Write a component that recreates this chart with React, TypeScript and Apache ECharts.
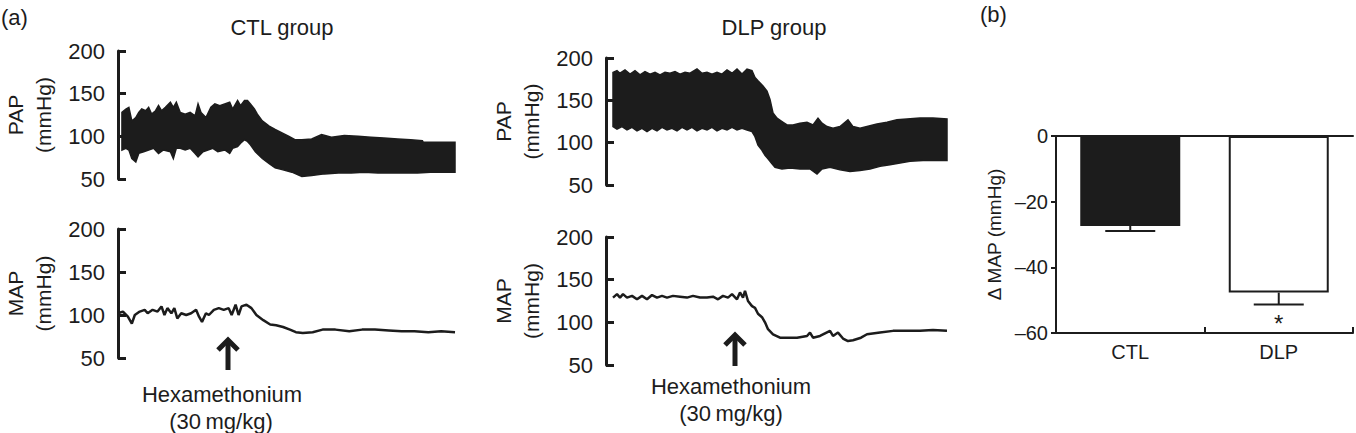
import React, { useEffect, useRef } from 'react';
import * as echarts from 'echarts';

const FONT = '"Liberation Sans", Arial, Helvetica, sans-serif';
const INK = '#1c1c1c';

// ---- (a) pressure traces: time positions (arbitrary units) and pressures (mmHg) ----
const pressureTicks = [50, 100, 150, 200];

const ctlPapUpperT = [4,8,11,14,18,21,24,28,31,34,38,41,44,48,53,56,59,63,68,73,78,81,84,89,94,98,103,108,113,116,121,124,128,131,134,138,141,146,153,159,166,173,179,186,196,206,216,229,243,256,269,283,296,308,309,341];
const ctlPapUpper = [128,132,134,118,122,128,132,130,134,126,130,136,130,134,140,134,140,128,126,128,124,138,128,122,134,138,136,138,140,132,142,136,142,142,138,132,126,118,112,108,104,100,96,96,97,102,99,101,100,99,98,97,96,95,93,93];
const ctlPapLowerT = [4,8,11,14,18,21,26,31,36,41,46,53,56,59,63,68,73,78,81,86,91,96,101,108,113,116,121,124,128,131,134,139,146,153,159,166,176,186,196,209,223,236,249,263,276,289,303,316,329,341];
const ctlPapLower = [84,86,84,74,70,80,82,84,86,80,84,82,74,86,86,84,86,80,76,82,84,86,82,84,80,86,88,92,96,94,90,82,74,68,63,61,58,53,54,56,57,57,58,57,57,57,57,58,58,58];

const ctlMapT = [0,5,10,14,17,22,27,30,35,40,44,47,50,54,57,60,64,69,74,79,82,85,89,92,97,102,107,112,115,119,122,125,130,135,140,147,154,160,167,174,180,187,197,207,220,234,247,260,274,287,300,314,327,341];
const ctlMap = [102,104,98,90,100,104,106,102,106,104,110,100,108,102,108,96,102,100,102,106,98,92,102,100,106,108,106,108,100,112,100,110,112,108,100,94,89,88,86,83,80,79,80,83,83,81,83,83,82,81,81,80,81,80];

const dlpPapUpperT = [7,11,14,19,24,29,34,39,44,49,54,59,64,69,74,79,84,91,96,101,106,111,116,121,126,131,136,141,146,149,152,157,161,164,167,171,176,181,187,194,201,207,212,216,221,227,234,242,247,254,261,271,281,291,301,314,327,341];
const dlpPapUpper = [183,185,182,186,181,185,180,184,181,183,180,183,182,184,181,183,182,187,182,183,181,183,181,186,182,187,181,187,185,177,173,167,161,151,135,129,125,121,121,123,124,121,129,123,119,117,119,127,119,117,119,122,124,127,128,129,129,128];
const dlpPapLowerT = [7,11,16,21,26,31,36,41,46,51,56,61,66,71,76,81,86,91,96,101,106,111,116,121,126,131,136,141,146,149,152,156,159,162,166,169,176,184,194,204,211,216,224,234,244,254,264,274,284,294,304,317,331,341];
const dlpPapLower = [119,116,119,115,118,114,117,113,117,114,118,115,117,114,118,115,118,114,117,115,118,114,117,115,118,115,117,115,113,107,97,91,85,81,75,71,69,70,69,69,63,69,71,68,66,67,69,72,74,76,78,79,79,79];

const dlpMapT = [7,11,14,17,21,26,31,36,41,46,51,56,61,67,74,81,87,94,101,107,112,117,122,126,131,134,137,139,142,146,149,152,156,159,162,167,174,181,191,201,204,207,214,224,227,232,237,242,247,255,261,274,287,301,314,327,341];
const dlpMap = [129,133,129,133,129,131,127,131,127,132,129,131,129,131,130,129,131,129,129,130,127,131,129,133,127,135,129,137,125,119,117,110,106,100,92,86,82,82,82,84,88,82,84,90,84,88,81,78,79,82,86,88,90,90,90,91,90];

// ---- (b) bar chart ----
const barCategories = ['CTL', 'DLP'];
const barMeans = [-27.4, -47.7];
const barSem = [1.5, 3.6];
const barSig = ['', '*'];
const deltaTicks = [-60, -40, -20, 0];

const TIME_MAX = 342;

function traceX(gridIndex: number) {
  return { type: 'value', gridIndex, min: 0, max: TIME_MAX, show: false };
}

function traceY(gridIndex: number, name: string) {
  return {
    type: 'value',
    gridIndex,
    min: pressureTicks[0],
    max: pressureTicks[pressureTicks.length - 1],
    interval: pressureTicks[1] - pressureTicks[0],
    name,
    nameLocation: 'middle',
    nameRotate: 90,
    nameGap: 61,
    nameTextStyle: { fontSize: 21, color: INK, fontFamily: FONT, lineHeight: 28 },
    axisLine: { show: true, lineStyle: { color: INK, width: 3 } },
    axisTick: { show: true, inside: true, length: 8, lineStyle: { color: INK, width: 3 } },
    axisLabel: { fontSize: 22, color: INK, fontFamily: FONT, margin: 13 },
    splitLine: { show: false },
  };
}

function bandSeries(idx: number, upT: number[], up: number[], loT: number[], lo: number[]) {
  return {
    type: 'custom',
    coordinateSystem: 'cartesian2d',
    xAxisIndex: idx,
    yAxisIndex: idx,
    clip: false,
    data: upT.map((t, i) => [t, up[i]]),
    renderItem: (params: any, api: any) => {
      if (params.dataIndex !== 0) return null;
      const pts: number[][] = [];
      for (let i = 0; i < upT.length; i++) pts.push(api.coord([upT[i], up[i]]));
      for (let i = loT.length - 1; i >= 0; i--) pts.push(api.coord([loT[i], lo[i]]));
      return {
        type: 'polygon',
        shape: { points: pts },
        style: { fill: INK, stroke: INK, lineWidth: 1.5, lineJoin: 'miter' },
      };
    },
  };
}

function lineSeries(idx: number, t: number[], v: number[]) {
  return {
    type: 'line',
    xAxisIndex: idx,
    yAxisIndex: idx,
    showSymbol: false,
    symbol: 'none',
    data: t.map((x, i) => [x, v[i]]),
    lineStyle: { color: INK, width: 2.5 },
  };
}

function arrow(x: number, yTop: number, yBottom: number) {
  return {
    type: 'group',
    children: [
      { type: 'line', shape: { x1: x, y1: yTop + 3, x2: x, y2: yBottom }, style: { stroke: INK, lineWidth: 5 } },
      {
        type: 'polyline',
        shape: { points: [[x - 10, yTop + 13], [x, yTop + 3], [x + 10, yTop + 13]] },
        style: { stroke: INK, lineWidth: 5, fill: null, lineJoin: 'miter' },
      },
    ],
  };
}

function label(text: string, x: number, y: number, fontSize: number, align = 'center') {
  return {
    type: 'text',
    x,
    y,
    style: { text, fontSize, fontFamily: FONT, fill: INK, align, verticalAlign: 'middle' },
  };
}

export default function App() {
  const ref = useRef<HTMLDivElement>(null);

  useEffect(() => {
    if (!ref.current) return;
    const chart = echarts.init(ref.current, null, { renderer: 'svg' });
    const option: any = {
      animation: false,
      backgroundColor: '#ffffff',
      textStyle: { fontFamily: FONT, color: INK },
      grid: [
        { left: 114, top: 51, width: TIME_MAX, height: 128 },
        { left: 114, top: 229, width: TIME_MAX, height: 129 },
        { left: 606, top: 58, width: TIME_MAX, height: 127 },
        { left: 606, top: 237, width: TIME_MAX, height: 128 },
        { left: 1056, top: 136, width: 297, height: 197 },
      ],
      xAxis: [
        traceX(0),
        traceX(1),
        traceX(2),
        traceX(3),
        {
          type: 'category',
          gridIndex: 4,
          position: 'bottom',
          data: barCategories,
          axisLine: { show: true, onZero: false, lineStyle: { color: INK, width: 2 } },
          axisTick: { show: true, inside: true, length: 6, alignWithLabel: false, lineStyle: { color: INK, width: 2 } },
          axisLabel: { fontSize: 20, color: INK, fontFamily: FONT, margin: 9 },
          splitLine: { show: false },
        },
        {
          type: 'category',
          gridIndex: 4,
          position: 'top',
          data: barCategories,
          axisLine: { show: true, onZero: false, lineStyle: { color: INK, width: 2 } },
          axisTick: { show: false },
          axisLabel: { show: false },
          splitLine: { show: false },
        },
      ],
      yAxis: [
        traceY(0, 'PAP\n(mmHg)'),
        traceY(1, 'MAP\n(mmHg)'),
        traceY(2, 'PAP\n(mmHg)'),
        traceY(3, 'MAP\n(mmHg)'),
        {
          type: 'value',
          gridIndex: 4,
          min: deltaTicks[0],
          max: deltaTicks[deltaTicks.length - 1],
          interval: deltaTicks[1] - deltaTicks[0],
          name: 'Δ MAP (mmHg)',
          nameLocation: 'middle',
          nameRotate: 90,
          nameGap: 52,
          nameTextStyle: { fontSize: 19, color: INK, fontFamily: FONT },
          axisLine: { show: true, lineStyle: { color: INK, width: 2 } },
          axisTick: { show: true, inside: false, length: 5, lineStyle: { color: INK, width: 2 } },
          axisLabel: {
            fontSize: 20,
            color: INK,
            fontFamily: FONT,
            margin: 8,
            formatter: (v: number) => String(v).replace('-', '\u2013'),
          },
          splitLine: { show: false },
        },
      ],
      series: [
        bandSeries(0, ctlPapUpperT, ctlPapUpper, ctlPapLowerT, ctlPapLower),
        lineSeries(1, ctlMapT, ctlMap),
        bandSeries(2, dlpPapUpperT, dlpPapUpper, dlpPapLowerT, dlpPapLower),
        lineSeries(3, dlpMapT, dlpMap),
        {
          type: 'bar',
          xAxisIndex: 4,
          yAxisIndex: 4,
          barWidth: 100,
          data: barMeans.map((v, i) => ({
            value: v,
            itemStyle: {
              color: i === 0 ? INK : '#ffffff',
              borderColor: INK,
              borderWidth: 2,
            },
          })),
        },
        {
          type: 'custom',
          xAxisIndex: 4,
          yAxisIndex: 4,
          clip: false,
          data: barMeans.map((v, i) => [i, v - barSem[i]]),
          renderItem: (params: any, api: any) => {
            const i = params.dataIndex;
            const top = api.coord([i, barMeans[i]]);
            const end = api.coord([i, barMeans[i] - barSem[i]]);
            return {
              type: 'group',
              children: [
                { type: 'line', shape: { x1: top[0], y1: top[1], x2: end[0], y2: end[1] }, style: { stroke: INK, lineWidth: 2 } },
                { type: 'line', shape: { x1: end[0] - 25, y1: end[1], x2: end[0] + 25, y2: end[1] }, style: { stroke: INK, lineWidth: 2 } },
                {
                  type: 'text',
                  x: end[0],
                  y: end[1] + 19,
                  style: { text: barSig[i], fontSize: 24, fontFamily: FONT, fill: INK, align: 'center', verticalAlign: 'middle' },
                },
              ],
            };
          },
        },
      ],
      graphic: [
        label('(a)', 1, 17, 22, 'left'),
        label('(b)', 980, 14, 22, 'left'),
        label('CTL group', 282, 27, 22),
        label('DLP group', 774, 27, 22),
        label('Hexamethonium', 222, 394, 22),
        label('(30\u2009mg/kg)', 221, 421, 22),
        label('Hexamethonium', 731, 386, 22),
        label('(30\u2009mg/kg)', 731, 413, 22),
        arrow(228, 337, 370),
        arrow(735, 332, 366),
      ],
    };
    chart.setOption(option);
    return () => chart.dispose();
  }, []);

  return (
    <div
      ref={ref}
      style={{ position: 'absolute', left: 0, top: 0, width: 1356, height: 433, background: '#fff' }}
    />
  );
}
